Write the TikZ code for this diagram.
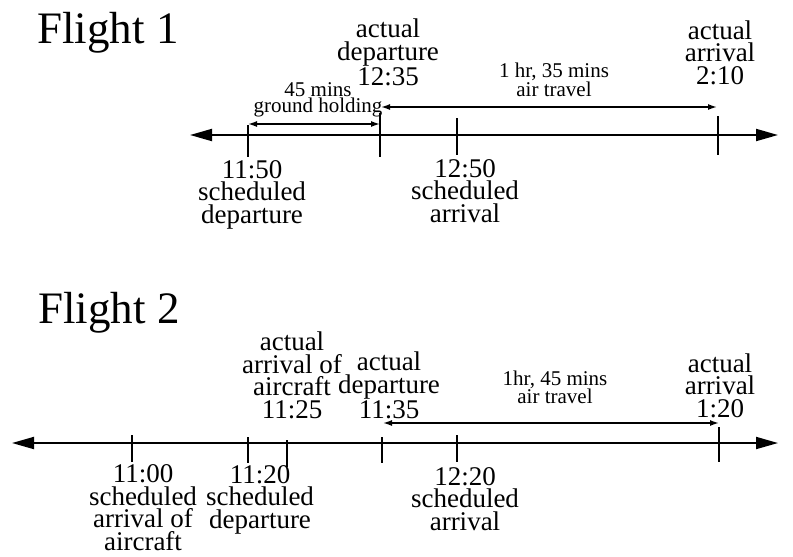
\documentclass[tikz,border=0pt]{standalone}
\usepackage{fontspec}
\setmainfont{Liberation Serif}
\usetikzlibrary{arrows.meta}
\tikzset{
  axisline/.style={line width=1.8pt, {Triangle[length=22pt,width=12pt]}-{Triangle[length=22pt,width=12pt]}},
  tickline/.style={line width=1.5pt},
  spanline/.style={line width=1.5pt, {Latex[length=9pt,width=6pt]}-{Latex[length=9pt,width=6pt]}},
  lbl/.style={inner sep=0pt, anchor=base, align=center, font=\fontsize{27}{22.5}\selectfont},
  small/.style={inner sep=0pt, anchor=base, align=center, font=\fontsize{21}{17}\selectfont},
  ttl/.style={inner sep=0pt, anchor=base west, font=\fontsize{45}{50}\selectfont}
}
\begin{document}
\begin{tikzpicture}[x=1pt,y=-1pt]
\useasboundingbox (0,0) rectangle (793,557);
% ---------------- Flight 1 ----------------
\node[ttl] (t1) at (37,43) {Flight 1};
\coordinate (L1) at (190,135);
\coordinate (R1) at (778,135);
\draw[axisline] (L1) -- (R1);
\coordinate (a150t) at (248,125); \coordinate (a150b) at (248,157);
\coordinate (a235t) at (380,113); \coordinate (a235b) at (380,157);
\coordinate (a250t) at (457,118); \coordinate (a250b) at (457,155);
\coordinate (a210t) at (718,116); \coordinate (a210b) at (718,155);
\draw[tickline] (a150t) -- (a150b);
\draw[tickline] (a235t) -- (a235b);
\draw[tickline] (a250t) -- (a250b);
\draw[tickline] (a210t) -- (a210b);
\coordinate (g1) at (248,124); \coordinate (g2) at (380,124);
\draw[spanline] (g1) -- (g2);
\coordinate (f1) at (381,107); \coordinate (f2) at (717,107);
\draw[spanline] (f1) -- (f2);
\node[lbl] (ad1) at (388,85) {actual\\departure\\12:35};
\node[lbl] (aa1) at (720,84) {actual\\arrival\\2:10};
\node[small, font=\fontsize{21}{16}\selectfont] (gh1) at (318,112) {45 mins\\ground holding};
\node[small, font=\fontsize{21}{19}\selectfont] (at1) at (554,96) {1 hr, 35 mins\\air travel};
\node[lbl] (sd1) at (252,223) {11:50\\scheduled\\departure};
\node[lbl] (sa1) at (465,222) {12:50\\scheduled\\arrival};
% ---------------- Flight 2 ----------------
\node[ttl] (t2) at (38,323) {Flight 2};
\coordinate (L2) at (12,443);
\coordinate (R2) at (778,443);
\draw[axisline] (L2) -- (R2);
\coordinate (b100t) at (132,435); \coordinate (b100b) at (132,462);
\coordinate (b120t) at (248,437); \coordinate (b120b) at (248,463);
\coordinate (b125t) at (287,440); \coordinate (b125b) at (287,467);
\coordinate (b135t) at (382,437); \coordinate (b135b) at (382,463);
\coordinate (b220t) at (457,435); \coordinate (b220b) at (457,462);
\coordinate (b320t) at (719,427); \coordinate (b320b) at (719,462);
\draw[tickline] (b100t) -- (b100b);
\draw[tickline] (b120t) -- (b120b);
\draw[tickline] (b125t) -- (b125b);
\draw[tickline] (b135t) -- (b135b);
\draw[tickline] (b220t) -- (b220b);
\draw[tickline] (b320t) -- (b320b);
\coordinate (h1) at (383,423); \coordinate (h2) at (719,423);
\draw[spanline] (h1) -- (h2);
\node[lbl] (aac2) at (292,418) {actual\\arrival of\\aircraft\\11:25};
\node[lbl] (ad2) at (389,418) {actual\\departure\\11:35};
\node[lbl] (aa2) at (720,417) {actual\\arrival\\1:20};
\node[small, font=\fontsize{21}{18}\selectfont] (at2) at (555,403) {1hr, 45 mins\\air travel};
\node[lbl] (sac2) at (143,550) {11:00\\scheduled\\arrival of\\aircraft};
\node[lbl] (sd2) at (260,528) {11:20\\scheduled\\departure};
\node[lbl] (sa2) at (465,530) {12:20\\scheduled\\arrival};
\end{tikzpicture}
\end{document}
